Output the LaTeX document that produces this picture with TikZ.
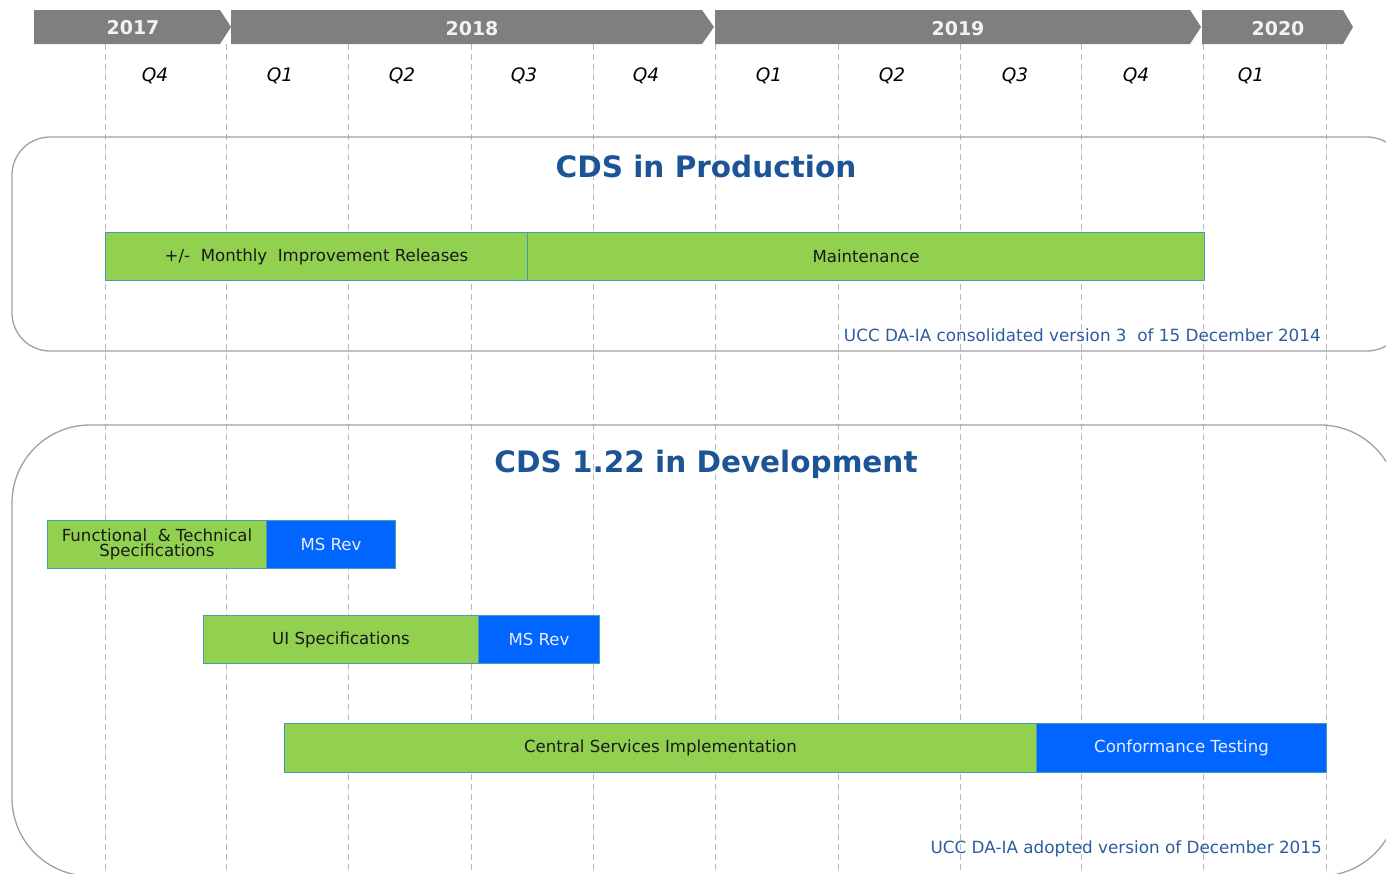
\documentclass[tikz,border=0pt]{standalone}
\usepackage{fontspec}
\setmainfont{DejaVu Sans}
\definecolor{hdr}{RGB}{127,127,127}
\definecolor{yeartxt}{RGB}{242,242,242}
\definecolor{gridc}{RGB}{185,185,185}
\definecolor{panelc}{RGB}{160,160,160}
\definecolor{grn}{RGB}{146,208,80}
\definecolor{blu}{RGB}{0,102,255}
\definecolor{barline}{RGB}{70,155,175}
\definecolor{titleblue}{RGB}{28,84,150}
\definecolor{noteblue}{RGB}{44,92,160}
\begin{document}
\begin{tikzpicture}[x=1pt,y=-1pt,
  yearshape/.style={fill=hdr,draw=none},
  yearlabel/.style={text=yeartxt,font=\fontsize{19}{19}\bfseries\selectfont,inner sep=0},
  qlabel/.style={font=\fontsize{18.5}{18.5}\itshape\selectfont,inner sep=0},
  gridline/.style={draw=gridc,line width=0.9pt,dash pattern=on 6pt off 4pt},
  panel/.style={draw=panelc,line width=1.3pt},
  ptitle/.style={text=titleblue,font=\fontsize{29.5}{29.5}\bfseries\selectfont,inner sep=0},
  note/.style={text=noteblue,font=\fontsize{16.8}{16.8}\selectfont,inner sep=0,anchor=east},
  bar/.style={draw=barline,line width=1pt,anchor=north west,inner sep=0,minimum height=48,font=\fontsize{16.6}{15}\selectfont,align=center},
  gbar/.style={bar,fill=grn,text=black!90},
  bbar/.style={bar,fill=blu,text=white!92!blue}
]
\useasboundingbox (0,0) rectangle (1386,873);
\clip (0,0) rectangle (1386,873);
% grid lines
\foreach \gx in {105,226,348,471,593,715,838,960,1081,1203,1326}
  \draw[gridline] (\gx,44) -- (\gx,873);
% year header
\fill[yearshape] (34,10) -- (220,10) -- (231,27) -- (220,44) -- (34,44) -- cycle;
\fill[yearshape] (231,10) -- (702,10) -- (714,27) -- (702,44) -- (231,44) -- cycle;
\fill[yearshape] (715,10) -- (1190,10) -- (1201,27) -- (1190,44) -- (715,44) -- cycle;
\fill[yearshape] (1202,10) -- (1343,10) -- (1353,27) -- (1343,44) -- (1202,44) -- cycle;
\node[yearlabel] (y17) at (133,28) {2017};
\node[yearlabel] (y18) at (472,29) {2018};
\node[yearlabel] (y19) at (958,29) {2019};
\node[yearlabel] (y20) at (1278,29) {2020};
% quarters
\node[qlabel] (q1) at (155,76) {Q4};
\node[qlabel] (q2) at (280,76) {Q1};
\node[qlabel] (q3) at (402,76) {Q2};
\node[qlabel] (q4) at (524,76) {Q3};
\node[qlabel] (q5) at (646,76) {Q4};
\node[qlabel] (q6) at (769,76) {Q1};
\node[qlabel] (q7) at (892,76) {Q2};
\node[qlabel] (q8) at (1015,76) {Q3};
\node[qlabel] (q9) at (1136,76) {Q4};
\node[qlabel] (q10) at (1251,76) {Q1};
% panels
\draw[panel,rounded corners=38] (12,137) rectangle (1405,351);
\draw[panel,rounded corners=78] (12,425) rectangle (1398,876);
\node[ptitle] (t1) at (706,166) {CDS in Production};
\node[ptitle] (t2) at (706,464) {CDS 1.22 in Development};
% production bars
\node[gbar,minimum width=422] (mir) at (105,232) {+/-\ \ Monthly\ \ Improvement Releases};
\node[gbar,minimum width=677] (mnt) at (527,232) {Maintenance};
\node[note] (n1) at (1321,335) {UCC DA-IA consolidated version 3\ \ of 15 December 2014};
% development bars
\node[gbar,minimum width=219] (fts) at (47,520) {Functional\ \ \& Technical\\Specifications};
\node[bbar,minimum width=129] (ms1) at (266,520) {MS Rev};
\node[gbar,minimum width=275] (uis) at (203,615) {UI Specifications};
\node[bbar,minimum width=121] (ms2) at (478,615) {MS Rev};
\node[gbar,minimum width=752,minimum height=49] (csi) at (284,723) {Central Services Implementation};
\node[bbar,minimum width=290,minimum height=49] (cft) at (1036,723) {Conformance Testing};
\node[note] (n2) at (1322,849) {UCC DA-IA adopted version of December 2015};
\end{tikzpicture}
\end{document}
